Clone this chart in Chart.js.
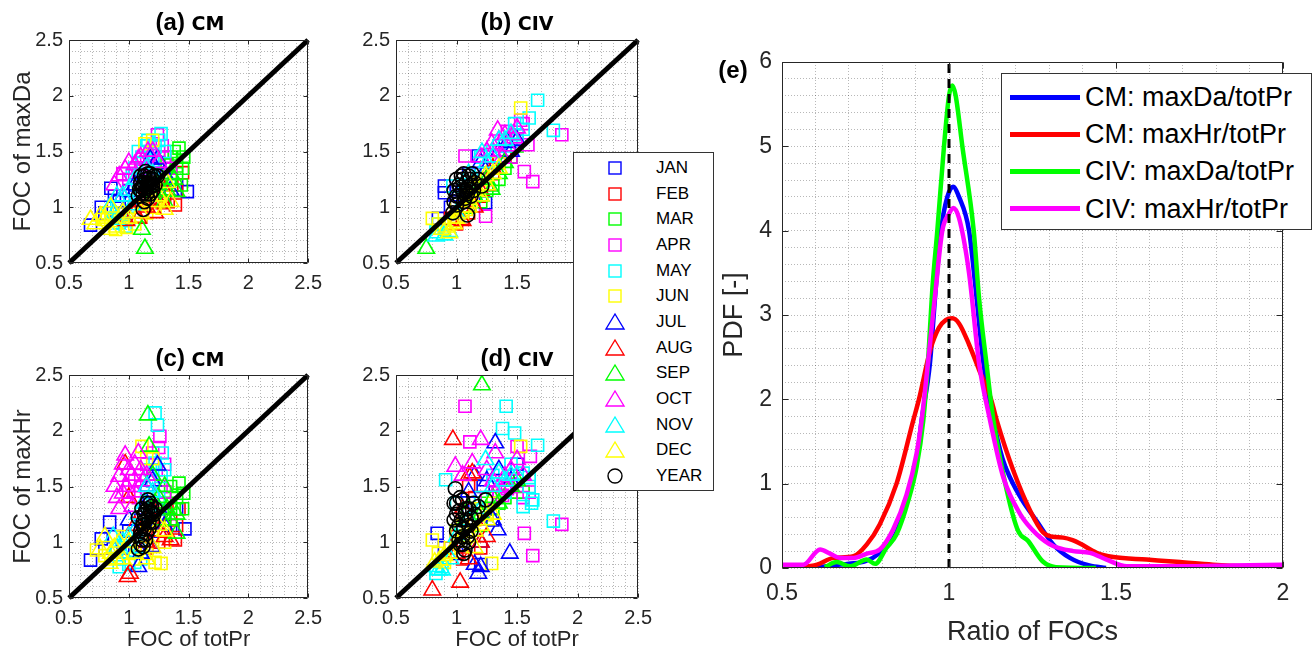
<!DOCTYPE html>
<html>
<head>
<meta charset="utf-8">
<script src="https://cdn.jsdelivr.net/npm/chart.js@4.4.0/dist/chart.umd.min.js"></script>
<style>
  body { margin: 0; background: #fff; }
  #fig { position: relative; width: 1313px; height: 653px; overflow: hidden; background: #fff;
         font-family: 'Liberation Sans', Arial, sans-serif; color: #000; }
  #fig canvas { position: absolute; }
  .ttl { position: absolute; transform: translate(-50%, -50%); white-space: nowrap;
         font-weight: bold; font-size: 24px; }
  .ttl span { font-family: 'DejaVu Sans', sans-serif; font-size: 19px; }
  .lgd { position: absolute; background: #fff; border: 1px solid #333; box-sizing: border-box; }
  .row { position: absolute; left: 0; right: 0; height: 0; }
  .row svg, .row i { position: absolute; }
  .row b { position: absolute; font-weight: normal; white-space: nowrap; transform: translateY(-50%); }
</style>
</head>
<body>
<div id="fig">
  <canvas id="cA" width="330" height="300" style="left:0;top:0"></canvas>
  <canvas id="cB" width="330" height="300" style="left:330px;top:0"></canvas>
  <canvas id="cC" width="330" height="353" style="left:0;top:300px"></canvas>
  <canvas id="cD" width="330" height="353" style="left:330px;top:300px"></canvas>
  <canvas id="cE" width="613" height="653" style="left:700px;top:0"></canvas>
  <div class="ttl" style="left:190px;top:22px">(a) <span>CM</span></div>
  <div class="ttl" style="left:517px;top:22px">(b) <span>CIV</span></div>
  <div class="ttl" style="left:190px;top:358px">(c) <span>CM</span></div>
  <div class="ttl" style="left:517px;top:358px">(d) <span>CIV</span></div>
  <div class="ttl" style="left:733px;top:70px">(e)</div>
  <div id="monthLegend" class="lgd" style="left:573px;top:152px;width:141px;height:339px"></div>
  <div id="pdfLegend" class="lgd" style="left:1001px;top:73px;width:311px;height:157px"></div>
</div>
<script>
// months / markers
const months = ['JAN', 'FEB', 'MAR', 'APR', 'MAY', 'JUN', 'JUL', 'AUG', 'SEP', 'OCT', 'NOV', 'DEC', 'YEAR'];
const monthColors = ['#0000ff', '#ff0000', '#00ff00', '#ff00ff', '#00ffff', '#ffff00',
                     '#0000ff', '#ff0000', '#00ff00', '#ff00ff', '#00ffff', '#ffff00', '#000000'];
const monthMarkers = ['rect', 'rect', 'rect', 'rect', 'rect', 'rect',
                      'triangle', 'triangle', 'triangle', 'triangle', 'triangle', 'triangle', 'circle'];

// axes
const focAxis = [0.5, 2.5];
const focLabels = [0.5, 1, 1.5, 2, 2.5];
const ratioAxis = [0.5, 2];
const ratioLabels = [0.5, 1, 1.5, 2];
const pdfAxis = [0, 6];
const pdfLabels = [0, 1, 2, 3, 4, 5, 6];
const refRatio = 1;

// (a) CM: FOC of totPr (x) vs FOC of maxDa (y), one list per month
const panelA = [
  [[0.68,0.84],[0.77,1.0],[0.85,1.17],[1.49,1.14],[0.92,1.05],[1.2,1.35],[1.05,1.2],[1.3,1.25],
   [0.8,0.95],[0.88,1.1],[1.0,1.15],[1.1,1.3],[1.25,1.4],[1.4,1.2]],
  [[1.39,1.02],[1.28,1.04],[1.45,1.31],[1.3,1.1],[1.2,1.0],[1.1,0.92],[1.36,1.2],
   [1.15,1.05],[1.25,1.15],[1.33,1.05],[1.4,1.15],[1.2,1.25],[1.05,1.0]],
  [[1.42,1.53],[1.46,1.45],[1.4,1.37],[1.35,1.25],[1.38,1.5],[1.3,1.45],[1.44,1.2],[1.25,1.15],
   [1.32,1.38],[1.28,1.3],[1.4,1.3],[1.35,1.45],[1.22,1.25],[1.45,1.35]],
  [[1.24,1.65],[1.2,1.57],[1.11,1.43],[1.3,1.45],[1.05,1.35],[1.15,1.4],[1.35,1.35],[0.95,1.3],
   [1.1,1.35],[1.18,1.48],[1.25,1.5],[1.0,1.25],[1.08,1.3],[1.28,1.55]],
  [[1.27,1.66],[1.16,1.6],[1.22,1.54],[1.11,1.45],[1.03,1.3],[0.97,0.83],[0.92,0.86],[1.3,1.5],[1.0,0.9],[1.18,1.5],
   [1.05,1.35],[1.12,1.4],[1.2,1.42],[0.95,0.88],[1.08,1.5],[1.25,1.6],[0.9,1.0],[1.15,1.55]],
  [[1.135,1.57],[0.78,0.89],[0.89,0.8],[1.22,1.0],[1.1,0.92],[0.95,0.95],[1.3,1.2],[1.05,0.85],
   [0.85,0.88],[1.0,1.0],[1.15,0.95],[1.25,1.05],[1.2,1.6],[0.82,0.95],[0.98,0.82]],
  [[1.24,1.43],[1.18,1.43],[1.1,1.25],[1.3,1.3],[0.95,1.1],[1.35,1.15],[1.15,1.35],[1.2,1.3],[1.05,1.2],[1.0,1.05]],
  [[1.15,1.0],[1.25,1.05],[1.05,0.95],[1.3,1.15],[0.98,0.88],[1.1,1.05],[1.2,1.1],[1.22,0.95],[1.08,0.9]],
  [[1.11,0.8],[1.135,0.63],[1.4,1.14],[1.32,1.15],[1.2,1.1],[1.38,1.25],[1.25,1.2],[1.3,1.05],[1.35,1.3]],
  [[1.08,1.43],[0.97,1.34],[1.16,1.5],[0.92,1.28],[1.05,1.38],[1.25,1.4],
   [1.0,1.4],[1.1,1.45],[1.15,1.35],[0.88,1.2],[1.2,1.5]],
  [[0.84,1.0],[0.89,0.89],[0.95,0.95],[1.03,1.02],[0.9,1.1],[1.1,1.2],[1.2,1.3],
   [0.95,1.1],[1.0,1.15],[0.88,0.95],[1.05,1.25],[1.15,1.35]],
  [[0.76,0.92],[0.84,0.8],[1.3,0.98],[1.32,1.22],[1.25,1.1],[0.68,0.89],[0.9,0.82],[1.0,0.9],
   [0.72,0.85],[0.8,0.9],[0.95,0.95],[1.1,0.95],[1.2,1.05],[1.35,1.05],[1.15,1.1],[0.85,1.0]],
  [[1.12,0.98],[1.08,1.1],[1.1,1.15],[1.12,1.2],[1.14,1.25],[1.16,1.22],[1.18,1.18],[1.2,1.25],
   [1.15,1.12],[1.13,1.28],[1.18,1.3],[1.22,1.2],[1.1,1.22],[1.16,1.08],[1.2,1.15],[1.24,1.28],
   [1.11,1.18],[1.13,1.22],[1.15,1.18],[1.17,1.26],[1.19,1.22],[1.14,1.15],[1.16,1.3],[1.12,1.12],
   [1.1,1.28],[1.18,1.12],[1.21,1.28],[1.14,1.32],[1.17,1.2],[1.13,1.05],[1.2,1.2],[1.09,1.16]]
];

// (b) CIV: totPr vs maxDa
const panelB = [
  [[0.9,1.19],[0.9,1.13],[1.18,1.46],[1.24,1.04],[1.15,1.2],[1.0,1.05],[1.3,1.4],[1.1,1.3],
   [0.95,1.0],[1.05,1.15],[1.2,1.3],[1.4,1.5],[0.85,0.9]],
  [[1.05,0.9],[1.1,0.95],[1.2,1.1],[1.3,1.3],[1.0,0.85],[1.35,1.4],
   [0.95,0.9],[1.15,1.15],[1.25,1.25],[1.4,1.45],[1.1,1.05]],
  [[1.3,1.2],[1.4,1.35],[1.25,1.15],[1.45,1.45],[1.35,1.25],[1.2,1.05],
   [1.1,1.0],[1.15,1.1],[1.3,1.35],[1.5,1.55],[1.25,1.3]],
  [[1.07,1.46],[1.56,1.32],[1.63,1.23],[1.87,1.65],[1.59,1.56],[1.53,1.78],[1.24,0.92],[1.4,1.6],[1.45,1.45],[1.35,1.5],
   [1.3,1.45],[1.5,1.6],[1.42,1.68],[1.55,1.75],[1.25,1.35]],
  [[1.67,1.96],[1.8,1.69],[1.48,1.75],[1.5,1.65],[0.97,1.19],[0.83,0.78],[1.4,1.55],[1.2,1.45],[1.55,1.7],
   [0.85,0.85],[1.1,1.2],[1.3,1.5],[1.45,1.6],[1.6,1.8],[1.25,1.3],[1.35,1.55]],
  [[1.53,1.89],[0.8,0.9],[1.05,0.95],[1.12,1.05],[0.95,0.85],[1.0,0.92],[1.2,1.2],[1.3,1.35],[0.9,0.8],
   [0.85,0.85],[1.0,1.0],[1.1,1.1],[1.15,1.2],[1.25,1.25],[0.98,0.88],[1.08,0.98],[1.2,1.15],[1.35,1.4]],
  [[1.35,1.5],[1.2,1.4],[1.42,1.58],[1.1,1.15],[1.5,1.6],[1.3,1.45],[1.25,1.35],[1.45,1.5],[1.0,1.1]],
  [[1.05,0.88],[1.15,1.0],[1.25,1.2],[0.98,0.85],[1.1,1.0],[1.2,1.15],[1.3,1.35]],
  [[0.75,0.63],[1.29,1.16],[1.35,1.3],[1.2,1.1],[1.25,1.25],[1.4,1.4],[1.15,1.1],[1.05,1.0]],
  [[1.34,1.69],[1.5,1.71],[1.29,1.57],[1.42,1.55],[1.38,1.45],[1.45,1.65],[1.25,1.5],
   [1.35,1.6],[1.4,1.65],[1.3,1.5],[1.48,1.62],[1.2,1.45]],
  [[0.83,0.74],[1.21,1.49],[1.45,1.66],[0.94,0.78],[1.35,1.6],[1.1,1.3],[1.3,1.45],
   [0.88,0.8],[1.0,0.95],[1.15,1.25],[1.4,1.6],[1.25,1.4],[0.9,0.75]],
  [[0.94,0.77],[1.1,1.07],[1.24,1.28],[1.15,1.15],[1.0,0.9],[0.88,0.8],[1.3,1.3],[1.05,1.0],
   [0.98,0.85],[1.02,0.95],[1.1,1.0],[1.2,1.1],[1.25,1.2],[1.35,1.35],[0.92,0.82],[1.15,1.2]],
  [[0.97,0.95],[1.09,0.93],[1.21,1.19],[1.0,1.1],[1.02,1.2],[1.05,1.25],[1.08,1.15],[1.1,1.28],
   [1.12,1.1],[1.15,1.22],[1.0,1.02],[1.06,1.05],[1.18,1.25],[0.98,1.15],[1.13,1.3],
   [1.02,1.1],[1.05,1.15],[1.08,1.22],[1.1,1.18],[1.12,1.2],[1.04,1.28],[1.07,1.08],[1.0,1.25],
   [1.14,1.15],[1.06,1.3],[0.98,1.05],[1.11,1.25],[1.03,1.18],[1.09,1.12]]
];

// (c) CM: totPr vs maxHr
const panelC = [
  [[0.68,0.84],[0.77,1.03],[0.84,1.18],[1.47,1.12],[1.4,1.3],[0.95,0.95],[1.2,1.1],[1.3,1.25],
   [0.88,1.05],[1.0,1.1],[1.1,1.2],[1.35,1.15],[1.25,1.35],[0.8,0.95]],
  [[1.39,1.02],[1.42,1.3],[1.3,1.1],[1.25,1.0],[1.35,1.2],[1.15,0.95],
   [1.2,1.15],[1.3,1.3],[1.4,1.15],[1.1,1.05],[1.25,1.25]],
  [[1.42,1.53],[1.46,1.44],[1.35,1.35],[1.3,1.2],[1.4,1.4],[1.25,1.3],
   [1.3,1.45],[1.38,1.3],[1.2,1.25],[1.45,1.3],[1.35,1.5]],
  [[1.26,1.95],[1.23,1.65],[1.27,1.5],[1.15,1.45],[1.05,1.55],[1.2,1.8],[1.0,1.45],
   [1.1,1.6],[1.2,1.55],[1.3,1.7],[1.15,1.7],[1.25,1.85],[1.08,1.4],[1.3,1.45]],
  [[1.22,2.16],[1.24,2.05],[1.22,1.71],[1.27,1.59],[0.92,0.78],[1.0,0.8],[1.2,1.4],[1.1,0.85],[1.25,1.3],
   [1.15,1.45],[1.2,1.55],[1.28,1.8],[1.18,1.65],[0.95,0.85],[1.25,1.4],[1.05,0.82],[1.3,1.65]],
  [[1.27,0.81],[0.73,0.93],[1.11,1.86],[1.2,1.75],[0.85,0.85],[1.05,0.85],[1.15,0.9],[1.3,1.0],
   [0.8,0.88],[0.9,0.95],[1.0,0.9],[1.1,0.95],[1.2,1.05],[1.15,1.75],[1.22,0.82],[0.95,1.05]],
  [[1.24,1.69],[1.08,0.78],[1.19,0.96],[1.15,1.5],[1.3,1.15],[1.0,1.2],
   [1.2,1.55],[1.15,1.35],[1.1,0.9],[1.25,1.3],[1.05,1.1]],
  [[0.99,0.69],[1.01,0.72],[0.97,1.7],[1.35,1.02],[1.1,1.1],[1.2,1.3],
   [1.05,1.15],[1.25,1.1],[1.15,1.0],[1.0,1.4],[1.3,1.05]],
  [[1.16,2.14],[1.17,1.86],[1.4,1.08],[1.32,1.3],[1.25,1.4],[1.35,1.2],
   [1.2,1.6],[1.3,1.5],[1.28,1.2],[1.22,1.35],[1.4,1.25]],
  [[0.97,1.78],[1.08,1.8],[0.92,1.59],[0.95,1.44],[1.03,1.32],[1.12,1.55],[1.0,1.65],[0.9,1.4],[1.05,1.7],
   [0.98,1.5],[1.1,1.65],[0.95,1.7],[1.02,1.6],[0.92,1.3],[1.15,1.6],[1.05,1.45],[0.88,1.5]],
  [[1.0,0.9],[0.87,1.05],[1.1,0.95],[1.05,1.1],[1.2,1.25],[0.95,1.0],[1.15,1.5],
   [0.9,0.95],[1.0,1.05],[1.08,1.25],[1.12,1.35],[0.95,0.9],[1.2,1.45]],
  [[0.76,0.94],[0.84,0.81],[0.88,0.95],[0.95,0.85],[1.0,1.0],[1.25,1.15],[1.15,0.85],[0.8,1.05],
   [0.85,0.9],[0.9,0.85],[1.05,0.9],[1.1,1.05],[0.92,1.0],[1.3,1.1],[1.2,0.95]],
  [[1.08,0.94],[1.1,0.98],[1.11,1.02],[1.19,1.26],[1.12,1.15],[1.14,1.2],[1.16,1.3],[1.18,1.35],
   [1.13,1.25],[1.2,1.18],[1.1,1.1],[1.15,1.08],[1.22,1.3],[1.08,1.22],[1.17,1.12],
   [1.12,1.18],[1.14,1.28],[1.16,1.22],[1.18,1.28],[1.15,1.35],[1.13,1.12],[1.11,1.3],[1.17,1.18],
   [1.19,1.32],[1.1,1.06],[1.12,0.96],[1.14,1.02],[1.21,1.25],[1.16,1.38]]
];

// (d) CIV: totPr vs maxHr
const panelD = [
  [[0.84,1.08],[1.22,1.5],[1.1,1.3],[1.3,1.2],[1.0,0.9],[1.4,1.5],[1.5,1.7],
   [0.9,0.95],[1.05,1.1],[1.15,1.35],[1.25,1.3],[1.35,1.45],[1.2,0.8]],
  [[1.1,1.5],[1.2,1.3],[1.05,1.25],[1.3,1.4],[0.95,0.95],
   [1.0,1.05],[1.1,1.15],[1.15,1.4],[1.25,1.3],[1.05,0.85],[1.2,0.95]],
  [[1.3,1.3],[1.45,1.45],[1.2,1.15],[1.5,1.5],[1.0,1.1],
   [1.1,1.2],[1.25,1.25],[1.35,1.35],[1.4,1.4],[1.55,1.45],[1.2,1.35]],
  [[1.07,2.22],[1.11,1.9],[1.56,1.08],[1.63,0.88],[1.87,1.16],[1.5,1.86],[1.61,1.77],[1.4,1.5],[1.35,1.45],[1.55,1.4],
   [1.3,1.55],[1.45,1.5],[1.38,1.42],[1.5,1.55],[1.42,1.48],[1.6,1.45],[1.25,1.4]],
  [[1.41,2.22],[1.38,2.02],[1.48,1.98],[1.67,1.87],[1.8,1.19],[1.55,1.32],[1.63,1.38],[0.91,1.56],[0.83,0.72],[1.0,1.35],[1.6,1.5],
   [1.3,1.6],[1.45,1.7],[1.55,1.62],[1.4,1.45],[0.88,0.78],[1.6,1.58],[1.62,1.35],[1.2,1.4]],
  [[0.8,1.02],[1.29,0.81],[1.53,1.86],[1.05,1.15],[1.15,1.2],[0.9,0.85],[1.2,1.3],
   [0.85,0.9],[0.95,0.95],[1.1,1.1],[1.25,1.25],[1.0,1.1],[1.3,1.35],[0.9,0.82]],
  [[1.32,1.89],[1.44,0.9],[1.2,0.78],[1.18,0.72],[1.34,1.11],[1.25,1.55],[1.1,1.45],
   [1.15,1.6],[1.35,1.65],[1.2,1.0],[1.45,1.55],[1.15,0.8],[1.3,1.2]],
  [[0.97,1.92],[1.03,0.64],[0.8,0.57],[1.13,1.62],[1.2,1.0],[1.1,0.85],
   [1.05,1.3],[1.15,1.2],[1.0,0.9],[1.25,1.05],[1.1,1.6]],
  [[1.21,2.41],[1.3,1.4],[1.1,1.3],[1.45,1.5],[1.05,1.15],[1.2,1.25],[1.35,1.35],[1.5,1.55]],
  [[0.99,1.68],[1.2,1.92],[1.32,1.8],[1.5,1.74],[1.4,1.59],[1.13,1.71],[1.35,1.5],
   [1.25,1.65],[1.4,1.5],[1.45,1.65],[1.05,1.6],[1.3,1.55],[1.55,1.6]],
  [[1.24,1.74],[0.83,0.78],[0.88,0.75],[1.45,1.6],[1.3,1.5],[1.0,1.05],
   [0.85,0.75],[1.35,1.62],[1.4,1.55],[1.1,1.2],[1.2,1.3],[0.95,0.85],[1.5,1.6]],
  [[0.86,0.84],[1.0,1.0],[1.15,1.1],[0.95,0.9],[1.25,1.2],[1.1,1.05],
   [0.9,0.88],[1.05,1.05],[1.2,1.15],[1.3,1.25],[0.82,0.82],[1.15,0.95]],
  [[0.99,1.48],[1.05,1.38],[1.07,0.93],[1.24,1.38],[1.0,1.25],[1.02,1.15],[1.05,1.05],[1.08,1.2],
   [1.1,1.3],[1.12,1.1],[1.15,1.25],[1.03,0.98],[1.18,1.32],[0.98,1.35],[1.1,1.0],[1.06,0.9],
   [1.0,1.35],[1.02,1.28],[1.04,1.2],[1.06,1.12],[1.08,1.3],[1.03,1.4],[1.0,1.1],[1.12,1.22],
   [1.14,1.35],[1.07,1.25],[0.98,1.2],[1.05,0.98],[1.1,1.15],[1.09,1.05],[1.02,1.02]]
];

// (e) PDF of FOC ratios
const pdfNames = ['CM: maxDa/totPr', 'CM: maxHr/totPr', 'CIV: maxDa/totPr', 'CIV: maxHr/totPr'];
const pdfColors = ['#0000ff', '#ff0000', '#00ff00', '#ff00ff'];
const cmDaX = [0.60,0.65,0.70,0.75,0.79,0.84,0.873,0.903,0.918,0.943,0.96,0.976,0.995,1.012,1.03,1.06,1.08,1.103,1.133,1.16,1.183,1.22,1.262,1.312,1.362,1.42,1.47];
const cmDaY = [0,0.03,0.05,0.08,0.17,0.4,0.8,1.28,1.75,2.43,3.3,4.0,4.4,4.52,4.4,4.0,3.3,2.43,1.75,1.3,1.07,0.8,0.56,0.28,0.12,0.03,0];
const cmHrX = [0.5,0.55,0.605,0.654,0.714,0.754,0.793,0.843,0.893,0.91,0.945,0.97,0.99,1.01,1.03,1.06,1.09,1.126,1.143,1.193,1.243,1.282,1.31,1.342,1.37,1.392,1.442,1.492,1.592,1.692,1.79,1.89,2.0];
const cmHrY = [0,0.01,0.04,0.12,0.14,0.28,0.52,1.0,1.75,2.0,2.6,2.85,2.94,2.96,2.9,2.65,2.35,2.0,1.75,1.15,0.68,0.42,0.37,0.36,0.33,0.29,0.18,0.13,0.10,0.07,0.04,0.02,0.01];
const civDaX = [0.628,0.664,0.704,0.754,0.779,0.813,0.843,0.878,0.903,0.923,0.937,0.95,0.965,0.985,1.0,1.01,1.02,1.04,1.074,1.09,1.112,1.133,1.173,1.207,1.237,1.28,1.32,1.44];
const civDaY = [0.01,0.07,0.02,0.1,0.05,0.24,0.4,0.8,1.2,1.75,2.43,3.3,4.0,5.0,5.6,5.72,5.6,5.0,4.0,3.2,2.43,1.75,0.92,0.44,0.32,0.08,0.01,0];
const civHrX = [0.5,0.564,0.614,0.644,0.674,0.714,0.754,0.793,0.833,0.873,0.903,0.918,0.937,0.96,0.98,1.0,1.013,1.03,1.06,1.09,1.123,1.163,1.213,1.263,1.312,1.372,1.422,1.472,1.532,1.7,1.85,2.0];
const civHrY = [0.04,0.04,0.22,0.17,0.12,0.12,0.17,0.22,0.46,0.87,1.36,1.75,2.43,3.3,4.0,4.2,4.27,4.15,3.5,2.43,1.75,1.07,0.64,0.40,0.26,0.20,0.18,0.10,0.02,0.02,0.03,0.04];

const FONT = "'Liberation Sans', Arial, sans-serif";
const INK = '#262626';
const markerSize = { rect: 8.5, triangle: 9.5, circle: 7 };

function stepTicks(min, max, step) {
  const out = [];
  const n = Math.round((max - min) / step);
  for (let k = 0; k <= n; k++) out.push({ value: +(min + k * step).toFixed(4) });
  return out;
}
const onList = (v, list) => list.some(t => Math.abs(t - v) < 1e-6);

function axis(o) {
  return {
    type: 'linear',
    position: o.pos,
    min: o.range[0],
    max: o.range[1],
    afterBuildTicks: s => { s.ticks = stepTicks(o.range[0], o.range[1], o.step); },
    afterFit: s => { if (o.pos === 'left') s.width = o.size; else s.height = o.size; },
    ticks: {
      autoSkip: false, maxRotation: 0, minRotation: 0, padding: o.pad,
      color: INK, font: { family: FONT, size: o.fs },
      callback: v => onList(v, o.labels) ? String(+v.toFixed(1)) : ''
    },
    grid: { color: 'rgba(0,0,0,0.28)', lineWidth: 1, drawTicks: false, borderDash: [1, 2] },
    border: { display: false, dash: [1, 2] },
    title: o.title
      ? { display: true, text: o.title, color: INK, font: { family: FONT, size: o.tfs }, padding: o.tpad }
      : { display: false }
  };
}

// box round the plot with inward ticks, like the original figure
const framePlugin = {
  id: 'frame',
  afterDatasetsDraw(chart, args, o) {
    const { ctx, chartArea: a, scales: { x, y } } = chart;
    const L = Math.round(a.left) + 0.5, R = Math.round(a.right) - 0.5;
    const T = Math.round(a.top) + 0.5, B = Math.round(a.bottom) - 0.5;
    ctx.save();
    ctx.strokeStyle = INK;
    ctx.lineWidth = 1;
    ctx.beginPath();
    ctx.rect(L, T, R - L, B - T);
    o.xs.forEach(v => {
      const p = Math.round(x.getPixelForValue(v)) + 0.5;
      ctx.moveTo(p, B); ctx.lineTo(p, B - o.len);
      ctx.moveTo(p, T); ctx.lineTo(p, T + o.len);
    });
    o.ys.forEach(v => {
      const p = Math.round(y.getPixelForValue(v)) + 0.5;
      ctx.moveTo(L, p); ctx.lineTo(L + o.len, p);
      ctx.moveTo(R, p); ctx.lineTo(R - o.len, p);
    });
    ctx.stroke();
    ctx.restore();
  }
};

function scatterChart(id, panel, pad, yOpt, xOpt) {
  const sets = panel.map((pts, i) => ({
    data: pts.map(p => ({ x: p[0], y: p[1] })),
    pointStyle: monthMarkers[i],
    pointRadius: markerSize[monthMarkers[i]],
    pointBorderColor: monthColors[i],
    pointBackgroundColor: 'rgba(0,0,0,0)',
    pointBorderWidth: 1.6,
    order: 30 - i
  }));
  sets.push({
    data: focAxis.map(v => ({ x: v, y: v })),
    showLine: true, borderColor: '#000', borderWidth: 5,
    pointRadius: 0, order: 0, clip: 6
  });
  new Chart(document.getElementById(id), {
    type: 'scatter',
    data: { datasets: sets },
    options: {
      responsive: false, animation: false, events: [],
      layout: { padding: pad },
      plugins: { legend: { display: false }, tooltip: { enabled: false },
                 frame: { xs: focLabels, ys: focLabels, len: 4 } },
      scales: {
        x: axis(Object.assign({ pos: 'bottom', range: focAxis, step: 0.1, labels: focLabels, fs: 20, pad: 8 }, xOpt)),
        y: axis(Object.assign({ pos: 'left', range: focAxis, step: 0.1, labels: focLabels, fs: 20, pad: 6 }, yOpt))
      }
    },
    plugins: [framePlugin]
  });
}

scatterChart('cA', panelA, { top: 40, right: 15, left: 0, bottom: 0 },
  { size: 69, title: 'FOC of maxDa', tfs: 24, tpad: { top: 9, bottom: 0 } }, { size: 37 });
scatterChart('cB', panelB, { top: 40, right: 18, left: 0, bottom: 0 },
  { size: 66 }, { size: 37 });
scatterChart('cC', panelC, { top: 75, right: 15, left: 0, bottom: 0 },
  { size: 69, title: 'FOC of maxHr', tfs: 24, tpad: { top: 9, bottom: 0 } },
  { size: 55, title: 'FOC of totPr', tfs: 22, tpad: { top: 0, bottom: 0 } });
scatterChart('cD', panelD, { top: 75, right: 18, left: 0, bottom: 0 },
  { size: 66 },
  { size: 55, title: 'FOC of totPr', tfs: 22, tpad: { top: 0, bottom: 0 } });

// (e)
const pdfX = [cmDaX, cmHrX, civDaX, civHrX];
const pdfY = [cmDaY, cmHrY, civDaY, civHrY];
const pdfSets = pdfNames.map((name, i) => ({
  type: 'line',
  label: name,
  data: pdfX[i].map((x, k) => ({ x: x, y: pdfY[i][k] })),
  borderColor: pdfColors[i],
  borderWidth: 4.5,
  pointRadius: 0,
  fill: false,
  cubicInterpolationMode: 'monotone',
  order: 10 - i
}));
pdfSets.push({
  type: 'line',
  data: pdfAxis.map(v => ({ x: refRatio, y: v })),
  borderColor: '#000', borderWidth: 3, borderDash: [9, 6],
  pointRadius: 0, order: 0
});

new Chart(document.getElementById('cE'), {
  type: 'scatter',
  data: { datasets: pdfSets },
  options: {
    responsive: false, animation: false, events: [],
    layout: { padding: { top: 62, right: 30, left: 0, bottom: 0 } },
    plugins: { legend: { display: false }, tooltip: { enabled: false },
               frame: { xs: ratioLabels, ys: pdfLabels, len: 6 } },
    scales: {
      x: axis({ pos: 'bottom', range: ratioAxis, step: 0.1, labels: ratioLabels, fs: 23, pad: 12, size: 85,
                title: 'Ratio of FOCs', tfs: 27, tpad: { top: 0, bottom: 4 } }),
      y: axis({ pos: 'left', range: pdfAxis, step: 0.2, labels: pdfLabels, fs: 23, pad: 10, size: 82,
                title: 'PDF [-]', tfs: 27, tpad: { top: 18, bottom: 0 } })
    }
  },
  plugins: [framePlugin]
});

// legends
function markerSvg(shape, color) {
  let s = '';
  if (shape === 'rect') s = '<rect x="6" y="4" width="12" height="12" fill="none" stroke="' + color + '" stroke-width="1.4"/>';
  else if (shape === 'triangle') s = '<polygon points="12,2 21,17 3,17" fill="none" stroke="' + color + '" stroke-width="1.4"/>';
  else s = '<circle cx="12" cy="10" r="7" fill="none" stroke="' + color + '" stroke-width="1.4"/>';
  return '<svg width="24" height="20" style="left:29px;top:-10px">' + s + '</svg>';
}
const ml = document.getElementById('monthLegend');
months.forEach((m, i) => {
  const row = document.createElement('div');
  row.className = 'row';
  row.style.top = (15 + i * 25.67) + 'px';
  row.innerHTML = markerSvg(monthMarkers[i], monthColors[i]) +
    '<b style="left:82px;font-size:17px">' + m + '</b>';
  ml.appendChild(row);
});
const pl = document.getElementById('pdfLegend');
pdfNames.forEach((n, i) => {
  const row = document.createElement('div');
  row.className = 'row';
  row.style.top = (23 + i * 37.2) + 'px';
  row.innerHTML = '<i style="left:8px;top:-2.5px;width:70px;height:5px;background:' + pdfColors[i] + '"></i>' +
    '<b style="left:83px;font-size:27px">' + n + '</b>';
  pl.appendChild(row);
});
</script>
</body>
</html>
